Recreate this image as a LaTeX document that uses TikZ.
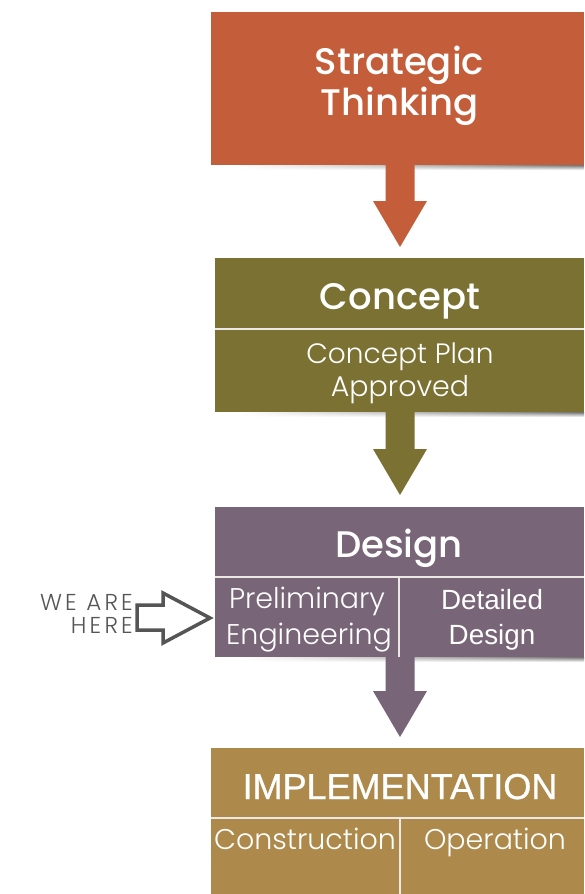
\documentclass[tikz,border=0pt]{standalone}
\usepackage{fontspec}
\setmainfont{Poppins}
\IfFontExistsTF{Poppins Medium}{\newfontfamily\headf{Poppins Medium}}{\newfontfamily\headf{Poppins}}
\IfFontExistsTF{Poppins Light}{\newfontfamily\lightf{Poppins Light}}{\newfontfamily\lightf{Poppins}}
\IfFontExistsTF{Poppins Light}{\newfontfamily\heref{Poppins Light}[LetterSpace=14]}{\newfontfamily\heref{Poppins}[LetterSpace=14]}
\newfontfamily\arialf{Liberation Sans}
\newfontfamily\arialfb{Liberation Sans}[FakeBold=0.8]
\usetikzlibrary{calc,fadings}
\definecolor{orangec}{RGB}{196,94,58}
\definecolor{olivec}{RGB}{122,113,50}
\definecolor{mauvec}{RGB}{120,101,119}
\definecolor{goldc}{RGB}{173,138,75}
\definecolor{linec}{RGB}{236,232,228}
\definecolor{grayc}{RGB}{85,85,85}
\newcommand\blockarr[3]{%
  \fill[#3] ($(#1.south -| #2)+(-14.5,-1)$) -- ($(#2)+(-14.5,-46)$) -- ($(#2)+(-27,-46)$)
    -- (#2) -- ($(#2)+(27,-46)$) -- ($(#2)+(14.5,-46)$) -- ($(#1.south -| #2)+(14.5,-1)$) -- cycle;}
\newcommand\boxshadow[1]{%
  \shade[left color=white, right color=black!55, path fading=south]
    ($(#1.south west)+(25,0)$) rectangle ($(#1.south east)+(0,5)$);}
\begin{document}
\begin{tikzpicture}[x=1pt,y=-1pt,
  box/.style={draw=none, inner sep=0pt, outer sep=0pt, anchor=north west, rectangle},
  title/.style={text=white, inner sep=0pt, anchor=base, font=\headf\fontsize{37}{37}\selectfont},
  sub/.style={text=white, inner sep=0pt, anchor=base, font=\lightf\fontsize{28.5}{28.5}\selectfont},
  ariel/.style={text=white, inner sep=0pt, anchor=base, font=\arialf\fontsize{27.8}{27.8}\selectfont},
  divider/.style={draw=linec, line width=1.5pt},
  here/.style={text=grayc, inner sep=0pt, anchor=base east, font=\heref\fontsize{23}{23}\selectfont}]
\useasboundingbox (0,0) rectangle (584,894);
% boxes
\node[box, fill=orangec, minimum width=373pt, minimum height=153pt] (b1) at (211,12) {};
\node[box, fill=olivec, minimum width=369pt, minimum height=154pt] (b2) at (215,258) {};
\node[box, fill=mauvec, minimum width=369pt, minimum height=150pt] (b3) at (215,507) {};
\node[box, fill=goldc, minimum width=373pt, minimum height=146pt] (b4) at (211,748) {};
\boxshadow{b1}
\boxshadow{b2}
\boxshadow{b3}
% connectors
\coordinate (t1) at (400,247);
\coordinate (t2) at (400,495);
\coordinate (t3) at (400,737);
\blockarr{b1}{t1}{orangec}
\blockarr{b2}{t2}{olivec}
\blockarr{b3}{t3}{mauvec}
% dividers
\draw[divider] (b2.west |- 0,329) coordinate (d2a) -- (b2.east |- 0,329) coordinate (d2b);
\draw[divider] (b3.west |- 0,577) coordinate (d3a) -- (b3.east |- 0,577) coordinate (d3b);
\draw[divider] (399,577) coordinate (v3a) -- (v3a |- b3.south);
\draw[divider] (b4.west |- 0,818) coordinate (d4a) -- (b4.east |- 0,818) coordinate (d4b);
\draw[divider] (400,818) coordinate (v4a) -- (v4a |- b4.south);
% texts
\node[title] (s1) at (399.5,74) {Strategic};
\node[title] (s2) at (399.5,115) {Thinking};
\node[title] (c1) at (400,309) {Concept};
\node[sub, font=\lightf\fontsize{28}{28}\selectfont] (c2) at (400,363) {Concept Plan};
\node[sub] (c3) at (400,396) {Approved};
\node[title] (g1) at (399,557) {Design};
\node[sub] (g2) at (307,608) {Preliminary};
\node[sub] (g3) at (309,644) {Engineering};
\node[ariel] (g4) at (492,609) {Detailed};
\node[ariel] (g5) at (492,644) {Design};
\node[ariel, font=\arialfb\fontsize{36}{36}\selectfont] (i1) at (400,799) {IMPLEMENTATION};
\node[sub] (i2) at (305,849) {Construction};
\node[sub] (i3) at (495,849) {Operation};
% we are here
\node[here] (w1) at (133,610) {WE ARE};
\node[here] (w2) at (133,633) {HERE};
\coordinate (ha) at (210,618);
\draw[grayc, line width=3.5pt, line join=miter] (137,605) coordinate (h0) -- (163,605) -- (163,593) -- (ha) -- (163,643) -- (163,630) -- (137,630) -- cycle;
\end{tikzpicture}
\end{document}
